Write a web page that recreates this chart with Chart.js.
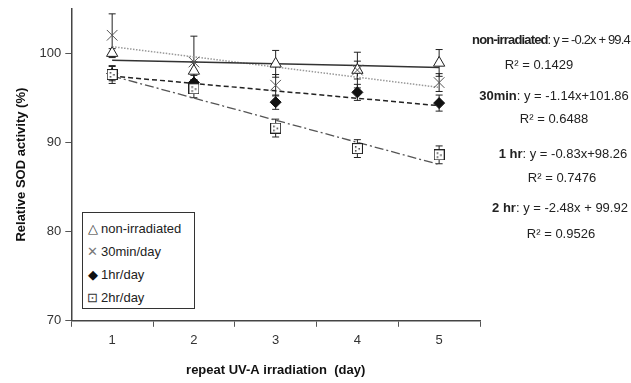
<!DOCTYPE html>
<html>
<head>
<meta charset="utf-8">
<script src="https://cdn.jsdelivr.net/npm/chart.js@4"></script>
<style>
  html, body { margin: 0; padding: 0; background: #fff; }
  #wrap { position: relative; width: 631px; height: 383px; font-family: "Liberation Sans", Arial, sans-serif; color: #222; }
  #legend { position: absolute; left: 82px; top: 212px; width: 111px; height: 95px; border: 1px solid #333; background: #fff; font-size: 13px; }
  #legend div { position: absolute; left: 4px; height: 16px; line-height: 16px; white-space: nowrap; }
  #legend span.sym { display: inline-block; width: 11px; text-align: center; margin-right: 3px; color: #333; }
  .eq { position: absolute; font-size: 13px; white-space: nowrap; text-align: center; width: 170px; line-height: 16px; }
  .eq b { font-weight: bold; }
</style>
</head>
<body>
<div id="wrap">
  <canvas id="chart" width="631" height="383"></canvas>
  <div id="legend"></div>
  <div id="eqs"></div>
</div>
<script>
// Datos
const days = ['1', '2', '3', '4', '5'];
const seriesNames = ['non-irradiated', '30min/day', '1hr/day', '2hr/day'];
const nonIrr = [100.0, 98.0, 98.8, 98.1, 98.9];
const min30 = [102.0, 99.0, 96.4, 98.1, 96.7];
const hr1 = [97.7, 96.7, 94.5, 95.6, 94.4];
const hr2 = [97.6, 96.0, 91.6, 89.3, 88.6];
const errNonIrr = [0.5, 1.0, 1.5, 2.0, 1.5];
const errMin30 = [2.4, 2.9, 1.2, 1.0, 1.0];
const errHr1 = [0.8, 0.8, 0.8, 0.9, 0.9];
const errHr2 = [1.0, 1.0, 1.0, 1.0, 1.0];
const yTicks = [70, 80, 90, 100];

// Rectas de tendencia (pendiente, ordenada, R²)
const trendLabels = ['non-irradiated', '30min', '1 hr', '2 hr'];
const trendSlope = [-0.2, -1.14, -0.83, -2.48];
const trendIntercept = [99.4, 101.86, 98.26, 99.92];
const trendText = ['y = -0.2x + 99.4', 'y = -1.14x+101.86', 'y = -0.83x+98.26', 'y = -2.48x + 99.92'];
const trendR2 = ['0.1429', '0.6488', '0.7476', '0.9526'];

const values = [nonIrr, min30, hr1, hr2];
const errors = [errNonIrr, errMin30, errHr1, errHr2];

// Marcador cuadrado con puntos
const sq = document.createElement('canvas');
sq.width = 11; sq.height = 11;
(() => {
    const c = sq.getContext('2d');
    c.fillStyle = '#fff';
    c.fillRect(0.5, 0.5, 10, 10);
    c.strokeStyle = '#222';
    c.lineWidth = 1;
    c.strokeRect(0.5, 0.5, 10, 10);
    c.fillStyle = '#333';
    c.fillRect(3, 3, 1.5, 1.5);
    c.fillRect(6.5, 5, 1.5, 1.5);
    c.fillRect(3, 7, 1.5, 1.5);
})();

const markerStyles = [
    { pointStyle: 'triangle', pointRadius: 6.5, pointBackgroundColor: '#fff', pointBorderColor: '#222', pointBorderWidth: 1 },
    { pointStyle: 'crossRot', pointRadius: 7.5, pointBackgroundColor: '#fff', pointBorderColor: '#555', pointBorderWidth: 1 },
    { pointStyle: 'rectRot', pointRadius: 5.5, pointBackgroundColor: '#111', pointBorderColor: '#111', pointBorderWidth: 1 },
    { pointStyle: sq, pointRadius: 6, pointBackgroundColor: '#fff', pointBorderColor: '#222', pointBorderWidth: 1 }
];

const lineStyles = [
    { borderColor: '#333', borderDash: [], borderWidth: 1.5 },
    { borderColor: '#999', borderDash: [1.5, 1.5], borderWidth: 1.5 },
    { borderColor: '#222', borderDash: [5, 3], borderWidth: 1.5 },
    { borderColor: '#555', borderDash: [9, 3, 2, 3], borderWidth: 1.3 }
];

const datasets = [];
// Líneas de tendencia
trendSlope.forEach((m, i) => {
    datasets.push({
        label: 'trend ' + trendLabels[i],
        data: days.map(d => m * Number(d) + trendIntercept[i]),
        showLine: true,
        pointRadius: 0,
        fill: false,
        ...lineStyles[i],
        order: 2
    });
});
// Puntos medidos (en orden inverso para que el triángulo quede arriba)
for (let i = values.length - 1; i >= 0; i--) {
    datasets.push({
        label: seriesNames[i],
        data: values[i],
        showLine: false,
        errs: errors[i],
        ...markerStyles[i],
        order: 1
    });
}

// Plugin para las barras de error
const errorBars = {
    id: 'errorBars',
    beforeDatasetsDraw(chart) {
        const ctx = chart.ctx;
        const y = chart.scales.y;
        ctx.save();
        ctx.strokeStyle = '#222';
        ctx.lineWidth = 1;
        chart.data.datasets.forEach((ds, di) => {
            if (!ds.errs) return;
            const meta = chart.getDatasetMeta(di);
            meta.data.forEach((pt, j) => {
                const v = ds.data[j];
                const top = y.getPixelForValue(v + ds.errs[j]);
                const bot = y.getPixelForValue(v - ds.errs[j]);
                ctx.beginPath();
                ctx.moveTo(pt.x, top); ctx.lineTo(pt.x, bot);
                ctx.moveTo(pt.x - 3.5, top); ctx.lineTo(pt.x + 3.5, top);
                ctx.moveTo(pt.x - 3.5, bot); ctx.lineTo(pt.x + 3.5, bot);
                ctx.stroke();
            });
        });
        ctx.restore();
    }
};

new Chart(document.getElementById('chart'), {
    type: 'line',
    data: { labels: days, datasets },
    options: {
        responsive: false,
        animation: false,
        layout: { padding: { left: 14, right: 151, top: 3, bottom: 5 } },
        plugins: { legend: { display: false }, tooltip: { enabled: false } },
        scales: {
            x: {
                type: 'category',
                offset: true,
                grid: { offset: true, drawOnChartArea: false, drawTicks: true, tickLength: 6, color: '#555' },
                border: { color: '#444', width: 1.5 },
                ticks: { color: '#333', font: { family: 'Liberation Sans', size: 13 }, padding: 6 },
                title: {
                    display: true,
                    text: 'repeat UV-A irradiation  (day)',
                    color: '#111',
                    font: { family: 'Liberation Sans', size: 13, weight: 'bold' },
                    padding: { top: 8, bottom: 0 }
                }
            },
            y: {
                min: 70,
                max: 105,
                afterBuildTicks: s => { s.ticks = yTicks.map(v => ({ value: v })); },
                afterFit: s => { s.paddingTop = 0; },
                grid: { drawOnChartArea: false, drawTicks: true, tickLength: 6, color: '#555' },
                border: { color: '#444', width: 1.5 },
                ticks: { color: '#333', font: { family: 'Liberation Sans', size: 13 }, padding: 4 },
                title: {
                    display: true,
                    text: 'Relative SOD activity (%)',
                    color: '#111',
                    font: { family: 'Liberation Sans', size: 13, weight: 'bold' },
                    padding: { top: 0, bottom: 6 }
                }
            }
        }
    },
    plugins: [errorBars]
});

// Leyenda en HTML
const legendSyms = ['\u25B3', '\u2715', '\u25C6', '\u22A1'];
const legendSymColors = ['#333', '#777', '#111', '#333'];
const legendTops = [8, 31, 54, 77];
const legend = document.getElementById('legend');
seriesNames.forEach((name, i) => {
    const row = document.createElement('div');
    row.style.top = legendTops[i] + 'px';
    row.innerHTML = '<span class="sym" style="color:' + legendSymColors[i] + '">' + legendSyms[i] + '</span>' + name;
    legend.appendChild(row);
});

// Ecuaciones de las rectas
const eqCenters = [551, 554, 563, 560];
const r2Centers = [539, 554, 562, 561];
const eqTops = [32, 88, 146, 200];
const r2Tops = [57, 111, 170, 226];
const eqs = document.getElementById('eqs');
trendLabels.forEach((lab, i) => {
    const a = document.createElement('div');
    a.className = 'eq';
    a.style.left = (eqCenters[i] - 85) + 'px';
    a.style.top = eqTops[i] + 'px';
    if (i === 0) a.style.letterSpacing = '-0.85px';
    a.innerHTML = '<b>' + lab + '</b>: ' + trendText[i];
    eqs.appendChild(a);
    const b = document.createElement('div');
    b.className = 'eq';
    b.style.left = (r2Centers[i] - 85) + 'px';
    b.style.top = r2Tops[i] + 'px';
    b.textContent = 'R\u00B2 = ' + trendR2[i];
    eqs.appendChild(b);
});
</script>
</body>
</html>
